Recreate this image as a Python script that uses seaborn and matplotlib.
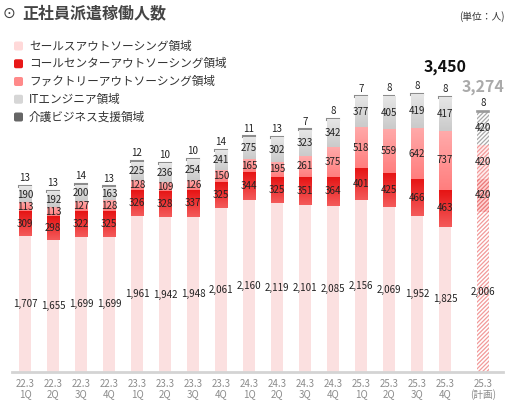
import numpy as np
import pandas as pd
import matplotlib.pyplot as plt
import seaborn as sns
from matplotlib.colors import LinearSegmentedColormap
from matplotlib.patches import FancyBboxPatch

# データ（単位：人）
quarters = ["22.3\n1Q", "22.3\n2Q", "22.3\n3Q", "22.3\n4Q",
            "23.3\n1Q", "23.3\n2Q", "23.3\n3Q", "23.3\n4Q",
            "24.3\n1Q", "24.3\n2Q", "24.3\n3Q", "24.3\n4Q",
            "25.3\n1Q", "25.3\n2Q", "25.3\n3Q", "25.3\n4Q"]
plan_label = "25.3\n(計画)"
sales = [1707, 1655, 1699, 1699, 1961, 1942, 1948, 2061, 2160, 2119, 2101, 2085, 2156, 2069, 1952, 1825]
call = [309, 298, 322, 325, 326, 328, 337, 325, 344, 325, 351, 364, 401, 425, 466, 463]
factory = [113, 113, 127, 128, 128, 109, 126, 150, 165, 195, 261, 375, 518, 559, 642, 737]
it = [190, 192, 200, 163, 225, 236, 254, 241, 275, 302, 323, 342, 377, 405, 419, 417]
care = [13, 13, 14, 13, 12, 10, 10, 14, 11, 13, 7, 8, 7, 8, 8, 8]
plan = [2006, 420, 420, 420, 8]  # 25.3（計画）: セールス, コール, ファクトリー, IT, 介護
layer_names = ["セールスアウトソーシング領域", "コールセンターアウトソーシング領域",
               "ファクトリーアウトソーシング領域", "ITエンジニア領域", "介護ビジネス支援領域"]

sns.set_style("white")
plt.rcParams['font.family'] = ['Noto Sans CJK JP', 'DejaVu Sans']
plt.rcParams['hatch.linewidth'] = 0.9

# 色（上→下のグラデーション）
grads = [("#FFDCDC", "#FFDCDC"), ("#F45A5A", "#E61414"), ("#FF7E7E", "#FFAAAA"),
         ("#CACACA", "#E6E6E6"), ("#8C8C8C", "#8C8C8C")]
plan_hatch = ["#F29A9A", "#EA7878", "#F29A9A", "#A8A8A8", "#9A9A9A"]
plan_face = ["white", "#FFD2D2", "#FFEDED", "white", "white"]

fig = plt.figure(figsize=(5.09, 4.0), dpi=100)
ax = fig.add_axes([12 / 509, 28 / 400, 491 / 509, 372 / 400])

n = len(quarters)
x_all = list(range(n)) + [16.36]
bw = 0.43
native = np.min(np.diff(x_all))
layers = ["sales", "call", "factory", "it", "care"]
df = pd.DataFrame({"x": x_all, "sales": sales + [plan[0]], "call": call + [plan[1]],
                   "factory": factory + [plan[2]], "it": it + [plan[3]], "care": care + [plan[4]]})

bottom = np.zeros(len(df))
for i, key in enumerate(layers):
    vals = df[key].to_numpy(dtype=float)
    before = len(ax.patches)
    lw = 1.5 if key == "care" else 0
    sns.barplot(data=df, x="x", y=key, native_scale=True, width=bw / native, bottom=bottom,
                color=grads[i][0], errorbar=None, linewidth=lw, edgecolor=grads[i][0], ax=ax)
    cmap = LinearSegmentedColormap.from_list(key, [grads[i][0], grads[i][1]])
    new = ax.patches[before:]
    for p in new[:-1]:
        x0, y0, w, h = p.get_x(), p.get_y(), p.get_width(), p.get_height()
        if key not in ("sales", "care"):
            ax.imshow(np.linspace(0, 1, 64).reshape(-1, 1), cmap=cmap, aspect="auto",
                      extent=[x0, x0 + w, y0 + h, y0], origin="upper", zorder=2.5)
    # 計画（ハッチ）
    pp = new[-1]
    pp.set_facecolor(plan_face[i])
    pp.set_edgecolor(plan_hatch[i])
    pp.set_hatch("////////")
    pp.set_linewidth(1.2 if key == "care" else 0)
    # ラベル
    for j in range(len(df)):
        if key == "care":
            ax.text(x_all[j], bottom[j] + vals[j] + 35, f"{int(vals[j]):,}", ha="center", va="bottom",
                    fontsize=7, color="#222222", zorder=5)
        else:
            ax.text(x_all[j], bottom[j] + vals[j] / 2, f"{int(vals[j]):,}", ha="center", va="center",
                    fontsize=7, color="#222222", zorder=5)
    bottom = bottom + vals

# 合計
ax.text(x_all[n - 1], bottom[n - 1] + 380, f"{int(bottom[n - 1]):,}", ha="center", va="center",
        fontsize=11.5, fontweight="bold", color="#111111")
ax.text(x_all[-1], bottom[-1] + 300, f"{int(bottom[-1]):,}", ha="center", va="center",
        fontsize=11.5, fontweight="bold", color="#AAAAAA")

ax.set_xlim(-13 / 28, 478 / 28)
ax.set_ylim(0, 372 / 0.0797)
ax.set_xticks(x_all)
ax.set_xticklabels(quarters + [plan_label], fontsize=7, color="#8C8C8C", linespacing=1.05)
ax.tick_params(axis="x", length=0, pad=5)
ax.set_yticks([])
ax.set_xlabel("")
ax.set_ylabel("")
for s in ["top", "left", "right"]:
    ax.spines[s].set_visible(False)
ax.spines["bottom"].set_color("#D4D4D4")
ax.spines["bottom"].set_linewidth(2)

# タイトル・単位
fig.text(3 / 509, 1 - 13 / 400, "⊙", fontsize=11, color="#444444", va="center", ha="left",
         family=['DejaVu Sans'])
fig.text(22 / 509, 1 - 13 / 400, "正社員派遣稼働人数", fontsize=11.5, fontweight="bold",
         color="#444444", va="center", ha="left")
fig.text(505 / 509, 1 - 17 / 400, "(単位：人)", fontsize=7, color="#333333", va="center", ha="right")

# 凡例（手描き）
legend_colors = ["#FFD9D9", "#E81818", "#FF8A8A", "#D6D6D6", "#666666"]
for k, (name, c) in enumerate(zip(layer_names, legend_colors)):
    yc = 46 + k * 17.75
    box = FancyBboxPatch((14 / 509, 1 - (yc + 4.5) / 400), 9 / 509, 9 / 400,
                         boxstyle="round,pad=0,rounding_size=0.004", transform=fig.transFigure,
                         facecolor=c, edgecolor="none")
    fig.patches.append(box)
    fig.text(29 / 509, 1 - yc / 400, name, fontsize=8.4, color="#333333", va="center", ha="left")

fig.savefig("out.png", dpi=100)
